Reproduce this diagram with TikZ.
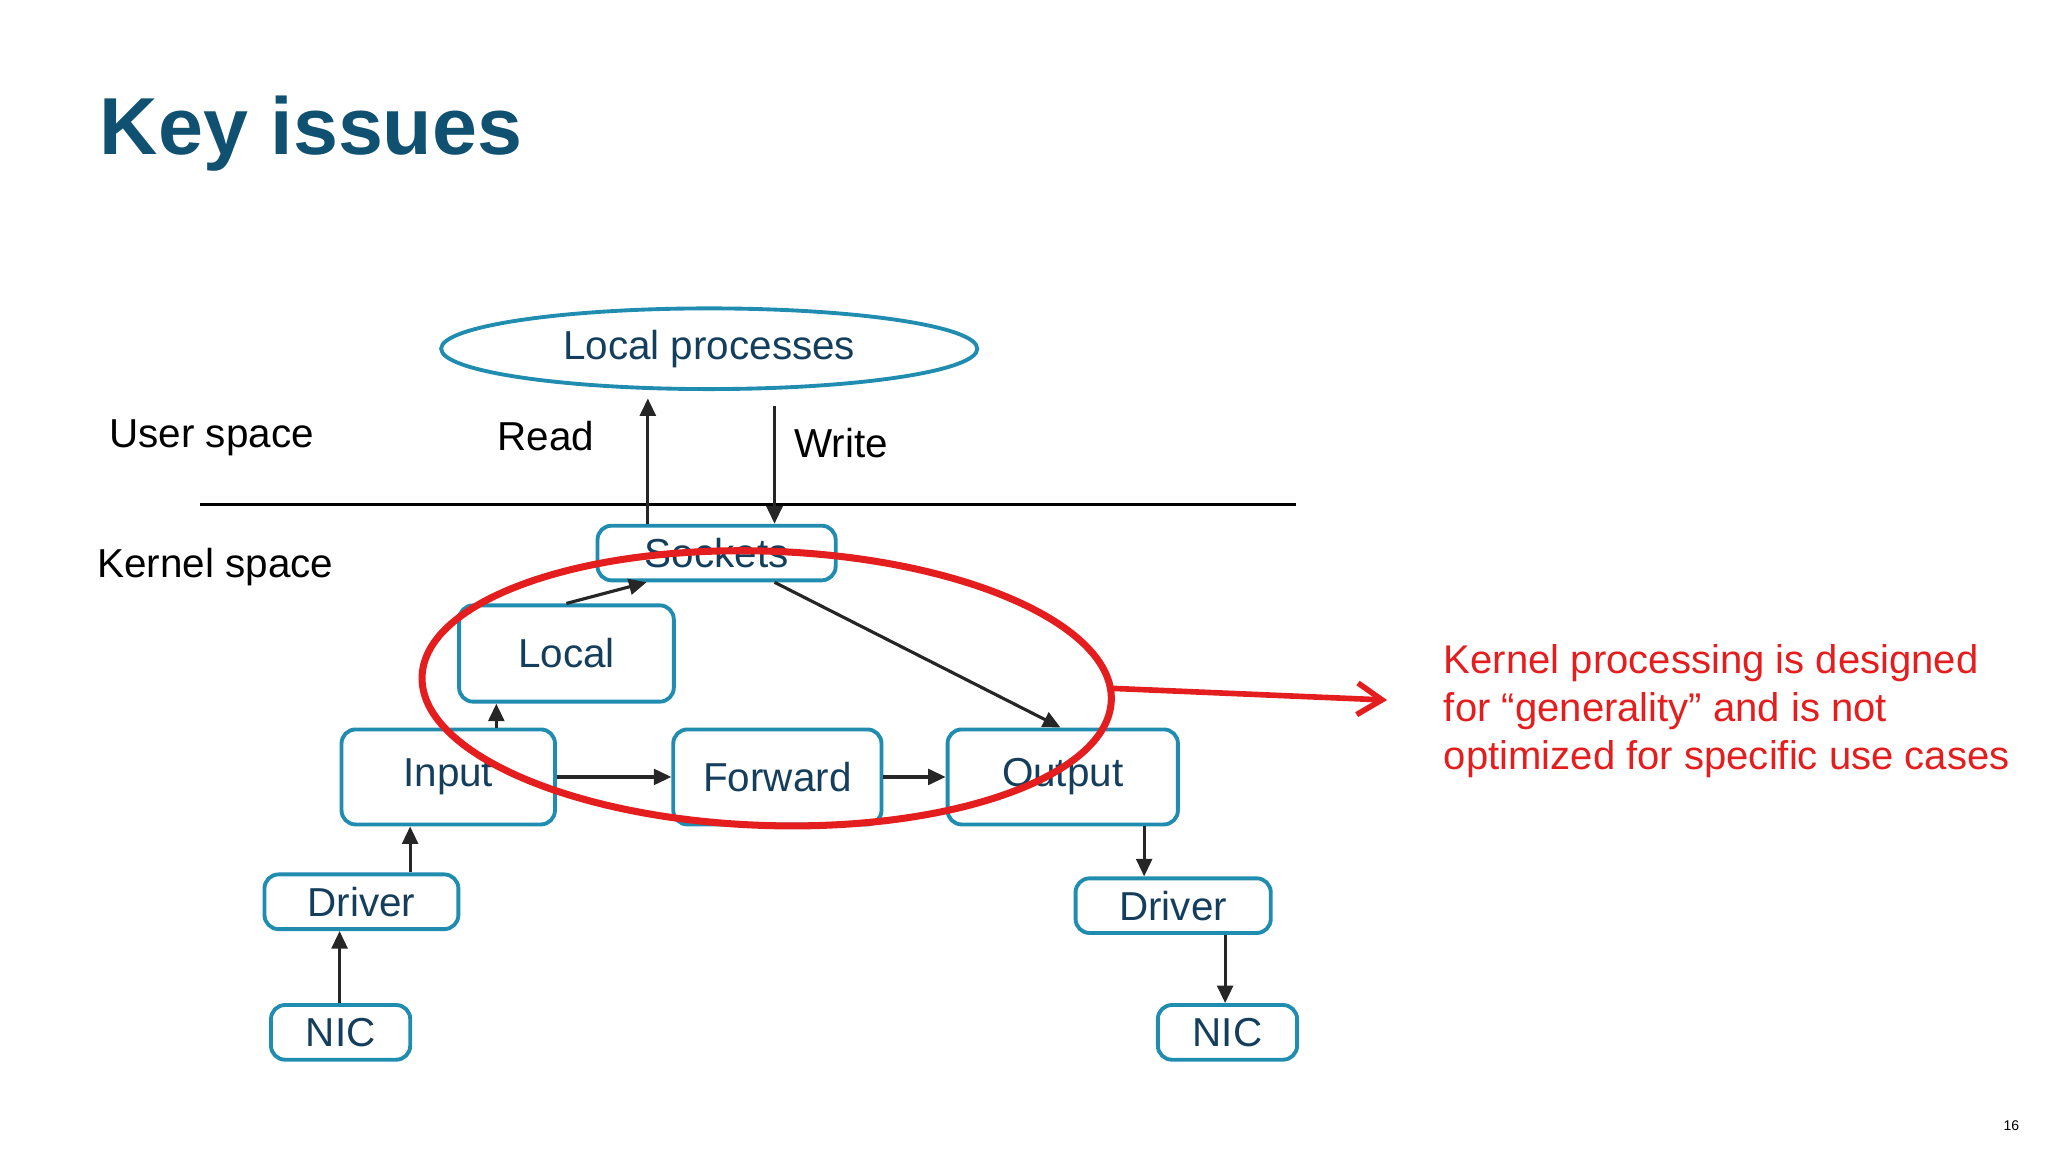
\documentclass[tikz,border=0pt]{standalone}
\usepackage{fontspec}
\setmainfont{Liberation Sans}
\usetikzlibrary{shapes.geometric,arrows.meta}
\definecolor{titleblue}{RGB}{16,80,112}
\definecolor{boxline}{RGB}{32,140,175}
\definecolor{boxtext}{RGB}{20,62,92}
\definecolor{redmark}{RGB}{228,30,30}
\begin{document}
\begin{tikzpicture}[x=0.01306cm,y=-0.01306cm,
  wh/.style 2 args={minimum width=#1*0.3703pt,minimum height=#2*0.3703pt},
  box/.style={draw=boxline,line width=1.1pt,rounded corners=4pt,text=boxtext,font=\fontsize{11.5}{13}\selectfont,inner sep=0pt,anchor=north west},
  lbl/.style={font=\fontsize{11.5}{13}\selectfont,text=black},
  arr/.style={-{Triangle[length=5pt,width=4.5pt]},line width=0.9pt,draw=black!85}]
\useasboundingbox (0,0) rectangle (1568,882);
\node[font=\bfseries\fontsize{23}{28}\selectfont,text=titleblue,anchor=west,inner sep=0pt] (title) at (76,102) {Key issues};
% nodes
\node[draw=boxline,line width=1.1pt,ellipse,inner sep=0pt,wh={412}{62},text=boxtext,font=\fontsize{11.5}{13}\selectfont] (lp) at (543,267) {Local processes};
\node[box,wh={183}{42}] (sock) at (456,401) {Sockets};
\node[box,wh={165}{74}] (local) at (350,462) {Local};
\node[box,wh={164}{73}] (input) at (260,557) {Input};
\node[box,wh={160}{73}] (fwd) at (514,557) {Forward};
\node[box,wh={177}{73}] (out) at (724,557) {Output};
\node[box,wh={149}{42}] (drvl) at (201,668) {Driver};
\node[box,wh={150}{42}] (drvr) at (822,671) {Driver};
\node[box,wh={107}{42}] (nicl) at (206,768) {NIC};
\node[box,wh={107}{42}] (nicr) at (885,768) {NIC};
% labels
\node[lbl] (us) at (162,335) {User space};
\node[lbl] (ks) at (165,434) {Kernel space};
\node[lbl] (rd) at (418,334) {Read};
\node[lbl] (wr) at (644,339) {Write};
% separator
\coordinate (sl) at (153,386); \coordinate (sr) at (992,386);
\draw[line width=0.8pt] (sl) -- (sr);
% connectors
\coordinate (rtop) at (496,305); \coordinate (wtop) at (593,311);
\draw[arr] (sock.north west -| 496,0) -- (rtop);
\draw[arr] (wtop) -- (sock.north west -| 593,0);
\draw[arr] (local.north) -- (sock.south -| 495,0);
\draw[arr] (sock.south -| 593,0) -- (out.north -| 812,0);
\draw[arr] (input.north -| 380,0) -- (local.south -| 380,0);
\draw[arr] (input) -- (fwd);
\draw[arr] (fwd) -- (out);
\draw[arr] (drvl.north -| 314,0) -- (input.south -| 314,0);
\draw[arr] (nicl.north -| 260,0) -- (drvl.south -| 260,0);
\draw[arr] (out.south -| 876,0) -- (drvr.north -| 876,0);
\draw[arr] (drvr.south -| 938,0) -- (nicr.north -| 938,0);
% red highlight
\draw[redmark,line width=2pt,rotate around={-2:(587,527)}] (587,527) ellipse (264 and 105);
\coordinate (rs) at (851,527); \coordinate (re) at (1062,536);
\draw[redmark,line width=1.6pt,-{Straight Barb[length=7pt,width=9pt]}] (rs) -- (re);
\node[text=redmark,font=\fontsize{11.4}{13.6}\selectfont,anchor=north west,align=left,inner sep=0pt] (note) at (1105,493) {Kernel processing is designed\\for “generality” and is not\\optimized for specific use cases};
\node[font=\fontsize{4}{5}\selectfont] (pg) at (1540,862) {16};
\end{tikzpicture}
\end{document}
